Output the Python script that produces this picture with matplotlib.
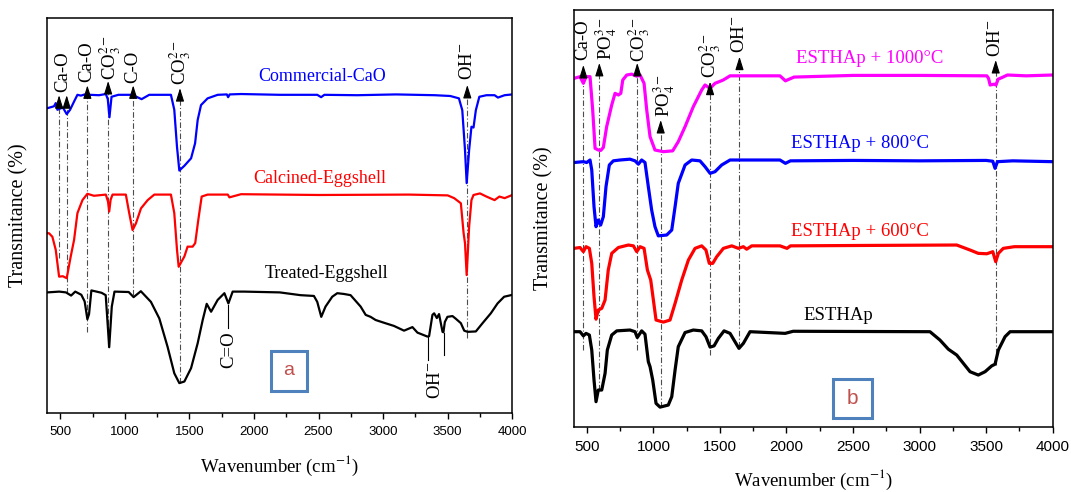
import matplotlib
matplotlib.use("Agg")
import matplotlib.pyplot as plt
from matplotlib.patches import Rectangle
from matplotlib.ticker import MultipleLocator

plt.rcParams['font.family'] = ['Liberation Serif', 'DejaVu Serif']
plt.rcParams['mathtext.fontset'] = 'stix'

# ---------------- panel a ----------------
wn_cao = [400, 452, 465, 478, 499, 520, 550, 576, 607, 633,
          660, 690, 710, 730, 800, 853, 868, 881, 897, 950,
          1050, 1090, 1130, 1189, 1300, 1357, 1383, 1404, 1422, 1461,
          1513, 1544, 1564, 1590, 1641, 1719, 1790, 1800, 1812, 1900,
          2200, 2490, 2520, 2545, 2800, 3100, 3400, 3520, 3587, 3613,
          3634, 3647, 3666, 3684, 3700, 3718, 3745, 3800, 3863, 3889,
          3941, 4000]
t_cao = [77.2, 77.7, 78.5, 76.8, 77.1, 77.4, 75.7, 76.8, 78.9, 80.6,
         80.4, 80.7, 80.1, 80.6, 80.5, 80.8, 79.5, 74.9, 80.1, 80.6,
         80.6, 80.1, 79.5, 80.6, 80.6, 80.6, 76.8, 67.4, 61.4, 62.6,
         64.5, 68.3, 74.2, 78.0, 79.7, 80.6, 80.7, 80.0, 80.7, 80.8,
         80.6, 80.6, 80.0, 80.6, 80.5, 80.7, 80.5, 80.3, 79.7, 76.7,
         66.6, 58.2, 66.6, 72.5, 72.3, 76.7, 80.1, 80.5, 80.5, 79.9,
         80.5, 80.7]

wn_egg = [400, 413, 439, 465, 491, 520, 550, 581, 607, 633,
          672, 710, 761, 853, 870, 879, 890, 905, 1008, 1034,
          1060, 1086, 1125, 1177, 1228, 1357, 1383, 1404, 1417, 1461,
          1486, 1525, 1545, 1569, 1595, 1641, 1797, 1810, 1900, 2500,
          3200, 3500, 3550, 3602, 3623, 3634, 3647, 3657, 3666, 3684,
          3700, 3750, 3800, 3863, 3900, 3941, 4000]
t_egg = [45.5, 45.5, 44.6, 41.3, 34.5, 34.6, 34.1, 39.6, 43.8, 50.6,
         53.9, 55.5, 55.0, 55.3, 53.5, 51.0, 54.0, 55.3, 55.3, 50.6,
         46.3, 48.0, 51.8, 53.9, 55.3, 55.3, 50.6, 41.3, 37.0, 39.6,
         42.1, 42.1, 43.0, 48.9, 54.8, 55.3, 55.3, 54.6, 55.4, 55.2,
         55.3, 55.1, 54.4, 53.1, 45.6, 43.0, 34.9, 41.3, 47.2, 53.9,
         55.2, 55.6, 54.8, 53.9, 54.8, 54.4, 55.2]

wn_treated = [400, 492, 544, 584, 616, 663, 689, 710, 723, 741,
              781, 820, 852, 879, 899, 920, 1030, 1068, 1124, 1202,
              1267, 1331, 1383, 1422, 1461, 1513, 1564, 1603, 1634, 1668,
              1719, 1771, 1802, 1835, 1925, 2200, 2360, 2464, 2490, 2521,
              2554, 2606, 2645, 2697, 2748, 2826, 2865, 2903, 2942, 3007,
              3084, 3162, 3227, 3266, 3343, 3356, 3382, 3395, 3416, 3433,
              3460, 3467, 3478, 3498, 3537, 3560, 3602, 3628, 3654, 3718,
              3770, 3834, 3886, 3937, 3990, 4000]
t_treated = [30.5, 30.7, 30.5, 29.7, 30.7, 29.9, 28.2, 23.7, 25.0, 31.0,
             30.7, 30.4, 29.8, 16.6, 26.9, 30.7, 30.6, 29.3, 30.8, 28.1,
             23.9, 16.7, 10.0, 7.5, 7.9, 11.3, 17.6, 23.5, 27.6, 25.6,
             28.6, 30.3, 27.7, 30.7, 30.7, 30.5, 29.8, 29.6, 28.1, 24.3,
             26.9, 29.4, 30.3, 30.1, 29.8, 26.9, 24.8, 24.3, 23.5, 22.8,
             22.0, 20.8, 21.7, 20.3, 19.3, 19.4, 24.8, 25.2, 24.0, 25.0,
             20.5, 20.4, 23.0, 24.3, 24.5, 23.9, 22.7, 20.8, 20.5, 20.6,
             22.7, 25.2, 27.7, 29.4, 29.8, 29.9]

# band positions (cm-1) marked with arrows
peaks_a = [491, 550, 710, 871, 1065, 1427, 3652]
peaks_a_top = [80.5, 80.5, 83.0, 84.1, 83.0, 82.3, 83.1]
peaks_a_bottom = [39.1, 30.3, 20.5, 16.7, 29.8, 7.5, 18.9]
labels_a = ['Ca-O', 'Ca-O', 'CO$_3^{2-}$', 'C-O', 'CO$_3^{2-}$', 'OH$^{-}$']
labels_a_wn = [523, 702, 885, 1064, 1432, 3652]
labels_a_t = [81.4, 83.9, 84.4, 83.5, 83.1, 84.4]

# ---------------- panel b ----------------
wn_1000 = [404, 449, 474, 494, 524, 544, 562, 586, 604, 624,
           649, 687, 712, 737, 755, 770, 800, 837, 875, 900,
           930, 950, 975, 1012, 1075, 1145, 1187, 1238, 1300, 1363,
           1388, 1426, 1463, 1525, 1576, 1951, 1992, 2057, 2500, 3000,
           3505, 3518, 3530, 3560, 3574, 3590, 3620, 3660, 3800, 4000]
t_1000 = [83.6, 84.0, 82.4, 84.0, 84.0, 76.0, 66.8, 66.4, 66.3, 67.0,
          72.0, 77.2, 80.0, 79.6, 80.0, 83.2, 84.4, 84.6, 84.1, 84.4,
          82.4, 76.0, 69.6, 66.4, 66.0, 66.2, 68.4, 72.0, 76.8, 80.8,
          82.0, 81.2, 82.4, 83.2, 84.2, 84.2, 83.0, 83.9, 84.3, 84.3,
          84.2, 83.6, 82.0, 82.2, 82.0, 83.4, 83.8, 84.4, 84.2, 84.4]

wn_800 = [404, 474, 499, 524, 537, 554, 569, 586, 604, 624,
          644, 669, 699, 749, 824, 862, 887, 912, 937, 962,
          987, 1012, 1037, 1100, 1138, 1163, 1187, 1238, 1288, 1350,
          1388, 1426, 1463, 1513, 1576, 1951, 1992, 2030, 2500, 3000,
          3500, 3550, 3567, 3585, 3700, 4000]
t_800 = [63.4, 63.6, 63.4, 64.0, 61.6, 52.8, 48.0, 49.6, 48.4, 50.4,
         57.6, 62.8, 63.8, 64.0, 64.2, 63.8, 63.0, 64.0, 63.4, 57.6,
         52.0, 48.0, 45.8, 46.0, 47.2, 52.8, 58.4, 62.8, 64.0, 63.8,
         62.4, 60.8, 61.2, 62.8, 64.0, 64.0, 63.2, 63.8, 63.9, 63.8,
         63.9, 63.7, 62.0, 63.6, 63.8, 63.6]

wn_600 = [404, 449, 474, 494, 519, 537, 554, 569, 586, 612,
          637, 661, 687, 737, 812, 850, 875, 900, 930, 955,
          980, 1000, 1020, 1075, 1125, 1163, 1213, 1263, 1313, 1363,
          1395, 1420, 1446, 1476, 1526, 1589, 1638, 1676, 1701, 1739,
          1951, 2004, 2030, 2600, 3279, 3379, 3441, 3505, 3550, 3572,
          3592, 3629, 3712, 4000]
t_600 = [42.8, 43.0, 42.0, 43.2, 42.8, 39.2, 31.2, 25.8, 28.0, 28.4,
         30.4, 37.6, 41.6, 43.0, 43.6, 43.4, 42.0, 43.2, 42.8, 37.6,
         35.2, 30.4, 25.6, 25.1, 25.6, 29.6, 35.2, 40.0, 42.8, 43.4,
         42.4, 39.2, 39.2, 40.8, 42.8, 43.4, 42.8, 43.2, 42.6, 43.4,
         43.4, 42.8, 43.4, 43.5, 43.6, 42.4, 41.6, 41.5, 42.0, 39.6,
         41.6, 42.8, 43.2, 43.2]

wn_hap = [404, 449, 474, 494, 519, 537, 554, 569, 586, 612,
          637, 654, 687, 725, 824, 862, 879, 912, 937, 962,
          975, 995, 1020, 1050, 1112, 1138, 1163, 1187, 1238, 1300,
          1363, 1395, 1426, 1456, 1488, 1531, 1576, 1613, 1643, 1676,
          1726, 1990, 2050, 3078, 3153, 3216, 3279, 3329, 3379, 3441,
          3492, 3542, 3567, 3592, 3617, 3642, 3680, 4000]
t_hap = [22.8, 22.8, 21.8, 22.4, 22.0, 18.4, 11.2, 6.0, 8.8, 8.8,
         12.8, 18.4, 22.0, 23.0, 23.2, 22.8, 21.4, 23.0, 22.2, 15.6,
         14.4, 11.2, 5.6, 4.7, 5.2, 7.2, 13.6, 19.2, 22.6, 23.2,
         23.0, 21.6, 19.1, 19.4, 21.2, 23.0, 22.4, 20.4, 18.8, 20.0,
         22.8, 22.4, 22.9, 22.8, 20.8, 18.6, 17.2, 15.2, 13.2, 12.4,
         13.2, 14.6, 15.0, 18.4, 20.0, 21.6, 22.8, 22.8]

peaks_b = [474, 594, 879, 1055, 1426, 1647, 3572]
peaks_b_top = [86.8, 87.3, 87.3, 73.6, 82.8, 88.8, 88.0]
peaks_b_bottom = [18.4, 8.8, 18.4, 4.8, 17.2, 19.2, 14.8]
labels_b = ['Ca-O', 'PO$_4^{3-}$', 'CO$_3^{2-}$', 'PO$_4^{3-}$', 'CO$_3^{2-}$',
            'OH$^{-}$', 'OH$^{-}$']
labels_b_wn = [470, 645, 895, 1080, 1425, 1647, 3572]
labels_b_t = [88.0, 88.0, 87.5, 74.4, 83.7, 89.6, 88.7]

XLABEL = 'Wavenumber (cm$^{-1}$)'
YLABEL = 'Transmitance (%)'


def style_axes(ax, ticksize, xlab_y):
    ax.set_xlim(400, 4000)
    ax.set_ylim(0, 100)
    ax.set_yticks([])
    ax.xaxis.set_major_locator(MultipleLocator(500))
    ax.xaxis.set_minor_locator(MultipleLocator(250))
    ax.tick_params(axis='x', which='major', direction='out', length=4.5,
                   width=1.0, pad=5, labelsize=ticksize,
                   labelfontfamily='Liberation Sans')
    ax.tick_params(axis='x', which='minor', direction='out', length=3, width=1.0)
    for sp in ax.spines.values():
        sp.set_linewidth(1.1)
    ax.set_xlabel(XLABEL, fontsize=13.5, va='center')
    ax.set_ylabel(YLABEL, fontsize=14.5, va='center')
    ax.xaxis.set_label_coords(0.5, xlab_y)
    ax.yaxis.set_label_coords(-0.062, 0.5)


def mark_peaks(ax, pos, top, bottom):
    for x, t, b in zip(pos, top, bottom):
        ax.plot([x, x], [b, t - 2], color='0.3', lw=0.8,
                ls=(0, (5, 2, 1, 2)), zorder=1)
        ax.annotate('', xy=(x, t), xytext=(x, t - 3),
                    arrowprops=dict(arrowstyle='-|>,head_length=0.8,head_width=0.25',
                                    color='k', lw=0.8, shrinkA=0, shrinkB=0))


fig = plt.figure(figsize=(10.71, 4.92), dpi=100)
ax_a = fig.add_axes([0.0442, 0.1612, 0.4341, 0.8016])
ax_b = fig.add_axes([0.5355, 0.1327, 0.4474, 0.8470])

# panel a
ax_a.plot(wn_cao, t_cao, color='#0000FF', lw=1.6)
ax_a.plot(wn_egg, t_egg, color='#FF0000', lw=1.6)
ax_a.plot(wn_treated, t_treated, color='black', lw=1.6)
mark_peaks(ax_a, peaks_a, peaks_a_top, peaks_a_bottom)
for x, t, s in zip(labels_a_wn, labels_a_t, labels_a):
    ax_a.text(x, t, s, rotation=90, ha='center', va='bottom', fontsize=13.5)

ax_a.plot([1802, 1802], [21.4, 27.3], color='k', lw=0.8)
ax_a.text(1802, 20.6, 'C=O', rotation=90, ha='center', va='top', fontsize=13.5)
ax_a.plot([3351, 3351], [13.3, 19.3], color='k', lw=0.8)
ax_a.plot([3469, 3469], [14.6, 20.2], color='k', lw=0.8)
ax_a.text(3403, 12.9, 'OH$^{-}$', rotation=90, ha='center', va='top', fontsize=13.5)

ax_a.text(2525, 85.2, 'Commercial-CaO', color='#0000FF', fontsize=13,
          ha='center', va='center')
ax_a.text(2512, 59.4, 'Calcined-Eggshell', color='#FF0000', fontsize=13,
          ha='center', va='center')
ax_a.text(2564, 35.3, 'Treated-Eggshell', color='black', fontsize=13,
          ha='center', va='center')

ax_a.add_patch(Rectangle((0.482, 0.0555), 0.0755, 0.101, transform=ax_a.transAxes,
                         fill=False, ec='#4F81BD', lw=2.2))
ax_a.text(0.520, 0.106, 'a', transform=ax_a.transAxes, color='#C0504D',
          fontsize=14, family='Liberation Sans', ha='center', va='center')
style_axes(ax_a, 9.5, -0.134)

# panel b
ax_b.plot(wn_1000, t_1000, color='#FF00FF', lw=2.3)
ax_b.plot(wn_800, t_800, color='#0000FF', lw=2.3)
ax_b.plot(wn_600, t_600, color='#FF0000', lw=2.3)
ax_b.plot(wn_hap, t_hap, color='black', lw=2.3)
mark_peaks(ax_b, peaks_b, peaks_b_top, peaks_b_bottom)
for x, t, s in zip(labels_b_wn, labels_b_t, labels_b):
    ax_b.text(x, t, s, rotation=90, ha='center', va='bottom', fontsize=13.5)

ax_b.text(2627, 88.4, 'ESTHAp + 1000°C', color='#FF00FF', fontsize=13.5,
          ha='center', va='center')
ax_b.text(2549, 68.0, 'ESTHAp + 800°C', color='#0000FF', fontsize=13.5,
          ha='center', va='center')
ax_b.text(2549, 46.8, 'ESTHAp + 600°C', color='#FF0000', fontsize=13.5,
          ha='center', va='center')
ax_b.text(2393, 26.8, 'ESTHAp', color='black', fontsize=13.5,
          ha='center', va='center')

ax_b.add_patch(Rectangle((0.542, 0.0215), 0.0805, 0.093, transform=ax_b.transAxes,
                         fill=False, ec='#4F81BD', lw=2.2))
ax_b.text(0.582, 0.068, 'b', transform=ax_b.transAxes, color='#C0504D',
          fontsize=15, family='Liberation Sans', ha='center', va='center')
style_axes(ax_b, 11, -0.127)

fig.savefig('out.png', dpi=100)
